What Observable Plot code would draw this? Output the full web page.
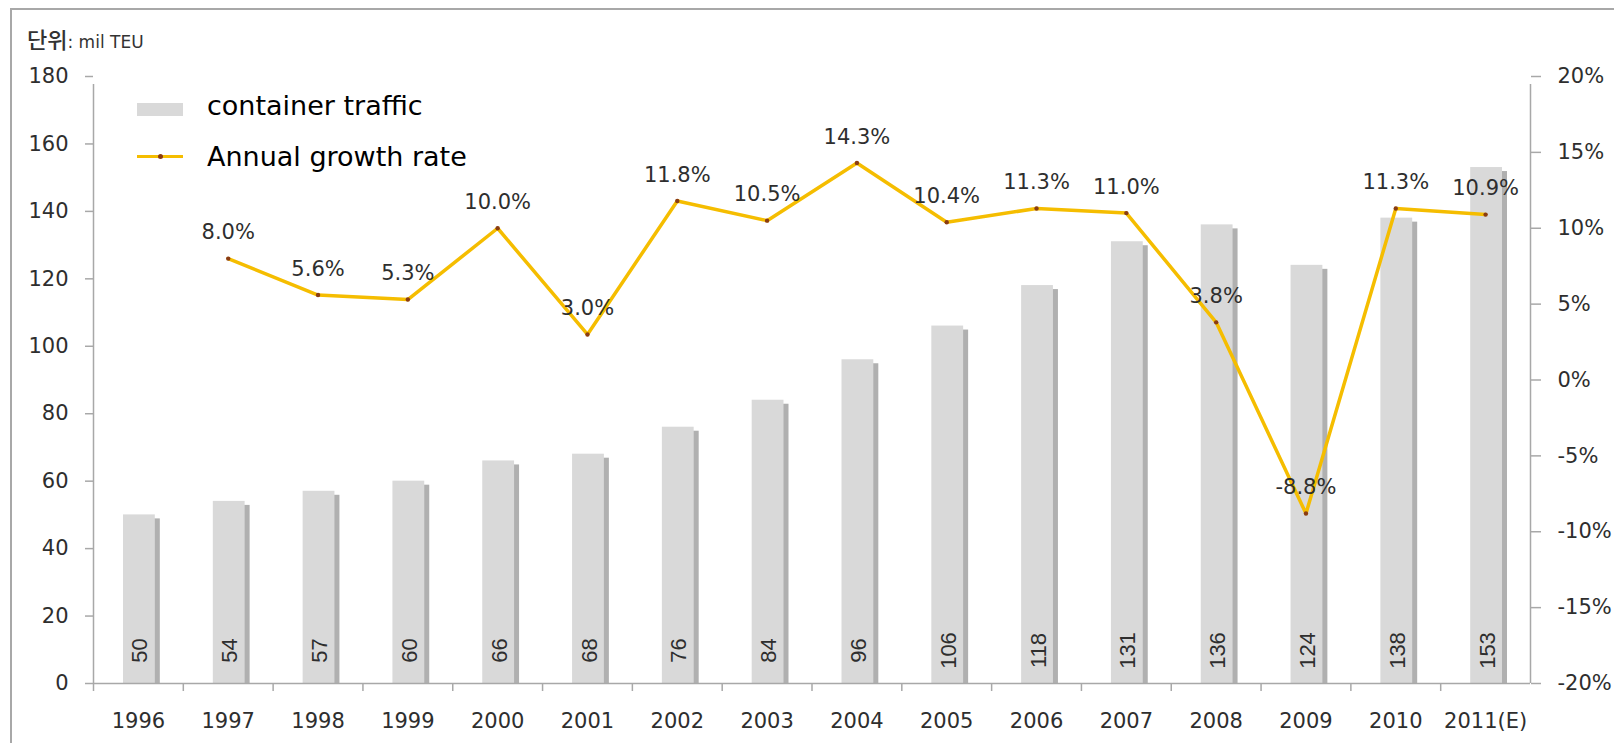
<!DOCTYPE html>
<html><head><meta charset="utf-8">
<script src="https://cdn.jsdelivr.net/npm/d3@7"></script>
<script src="https://cdn.jsdelivr.net/npm/@observablehq/plot@0.6"></script>
<style>
html,body{margin:0;padding:0;background:#fff;}
body{width:1614px;height:743px;overflow:hidden;position:relative;font-family:"DejaVu Sans",sans-serif;color:#333;}
#frame{position:absolute;left:10px;top:8px;width:1700px;height:800px;border-left:2px solid #a8a8a8;border-top:2px solid #a8a8a8;}
#chart{position:absolute;left:0;top:0;}
#title{position:absolute;left:27px;top:22px;white-space:nowrap;color:#333;}
#title .ko{font-family:"Noto Sans CJK KR",sans-serif;font-size:22px;font-weight:500;}
#title .unit{font-family:"DejaVu Sans",sans-serif;font-size:17px;}
.legtext{position:absolute;left:207px;font-family:"DejaVu Sans",sans-serif;font-size:27px;line-height:27px;color:#000;white-space:nowrap;}
.sw{position:absolute;}
</style></head><body>
<div id="frame"></div>
<div id="chart"></div>
<div id="title"><span class="ko">단위</span><span class="unit">: mil TEU</span></div>
<div class="sw" style="left:137px;top:103px;width:46px;height:13px;background:#d9d9d9;"></div>
<div class="sw" style="left:137px;top:155px;width:46px;height:3px;background:#f5bd00;"></div>
<div class="sw" style="left:158px;top:154px;width:5px;height:5px;border-radius:50%;background:#8a3c12;"></div>
<div class="legtext" style="top:92px;">container traffic</div>
<div class="legtext" style="top:143px;">Annual growth rate</div>
<script>
const years = ["1996","1997","1998","1999","2000","2001","2002","2003","2004","2005","2006","2007","2008","2009","2010","2011(E)"];
const traffic = [50,54,57,60,66,68,76,84,96,106,118,131,136,124,138,153];
const growth = [null,8.0,5.6,5.3,10.0,3.0,11.8,10.5,14.3,10.4,11.3,11.0,3.8,-8.8,11.3,10.9];
const leftTicks = [0,20,40,60,80,100,120,140,160,180];
const rightTicks = [-20,-15,-10,-5,0,5,10,15,20];

const W = 1614, H = 743, mL = 93, mR = 84, mT = 76, mB = 60;
const step = (W - mL - mR) / years.length;
const data = years.map((y, i) => ({year: y, traffic: traffic[i], growth: growth[i]}));
const gData = data.filter(d => d.growth != null);
const L0 = leftTicks[0], L1 = leftTicks[leftTicks.length - 1];
const R0 = rightTicks[0], R1 = rightTicks[rightTicks.length - 1];
const toLeft = g => L0 + (g - R0) * (L1 - L0) / (R1 - R0);
const fromLeft = v => R0 + (v - L0) * (R1 - R0) / (L1 - L0);
const axisColor = "#a8a8a8";
const textColor = "#2e2e2e";

const chart = Plot.plot({
  width: W, height: H,
  marginLeft: mL, marginRight: mR, marginTop: mT, marginBottom: mB,
  style: {fontFamily: "DejaVu Sans", fontSize: "21px", color: textColor, background: "transparent", overflow: "visible"},
  x: {domain: years, padding: 0, round: false, label: null},
  y: {domain: [L0, L1], label: null},
  marks: [
    Plot.barY(data, {x: "year", y: "traffic", fill: "#b0b0b0", insetLeft: 34, insetRight: 23, insetTop: 4}),
    Plot.barY(data, {x: "year", y: "traffic", fill: "#d9d9d9", insetLeft: 30, insetRight: 28}),
    Plot.ruleY([0], {stroke: axisColor, strokeWidth: 1.5}),
    Plot.ruleX([years[0]], {y1: L0, y2: L1, dx: -step / 2, insetBottom: -8, stroke: axisColor, strokeWidth: 1.5}),
    Plot.ruleX([years[years.length - 1]], {y1: L0, y2: L1, dx: step / 2, insetBottom: -8, stroke: axisColor, strokeWidth: 1.5}),
    Plot.axisX({tickSize: 0, tickPadding: 30, fontSize: 21, fill: textColor, label: null}),
    Plot.axisX({tickSize: 8, tickFormat: () => "", dx: -step / 2, stroke: axisColor, strokeWidth: 1.5, label: null}),
    Plot.axisY({anchor: "left", ticks: leftTicks, tickSize: 8, tickPadding: 17, stroke: axisColor, strokeWidth: 1.5, fill: textColor, fontSize: 21, label: null}),
    Plot.axisY({anchor: "right", ticks: rightTicks.map(toLeft), tickFormat: v => Math.round(fromLeft(v)) + "%", tickSize: 10, tickPadding: 17, stroke: axisColor, strokeWidth: 1.5, fill: textColor, fontSize: 21, label: null}),
    Plot.text(data, {x: "year", y: L0, text: d => String(d.traffic), rotate: -90, dy: -33, dx: 2, fontSize: 22, fontFamily: "Liberation Sans", fill: textColor}),
    Plot.line(gData, {x: "year", y: d => toLeft(d.growth), stroke: "#f5bd00", strokeWidth: 3.5}),
    Plot.dot(gData, {x: "year", y: d => toLeft(d.growth), r: 2.2, fill: "#8a3c12"}),
    Plot.text(gData, {x: "year", y: d => toLeft(d.growth), text: d => d.growth.toFixed(1) + "%", dy: -26, fontSize: 21, fill: textColor})
  ]
});
document.getElementById("chart").appendChild(chart);
</script>
</body></html>
